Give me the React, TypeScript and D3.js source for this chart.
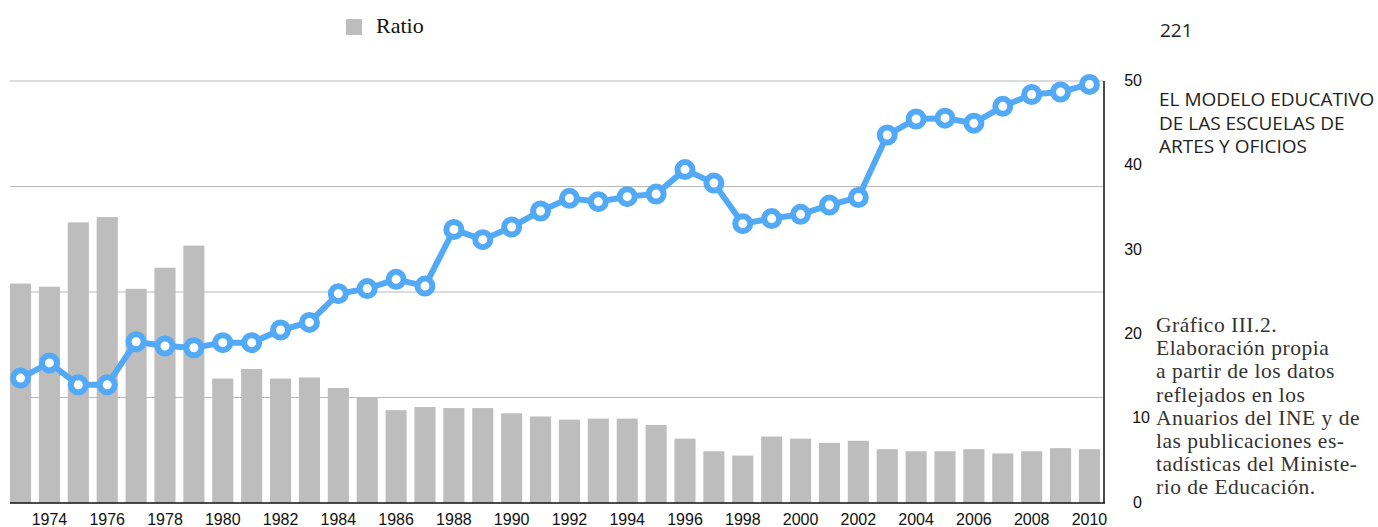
import React from 'react';
import * as d3 from 'd3';

// chart size (whole page)
const width = 1378;
const height = 527;
const plot = { left: 10, right: 1104, top: 81, bottom: 503 };

// data
const years = d3.range(1973, 2011);
const barValues = [
  20.8, 20.5, 26.6, 27.1, 20.3, 22.3, 24.4, 11.8, 12.7, 11.8,
  11.9, 10.9, 10.0, 8.8, 9.1, 9.0, 9.0, 8.5, 8.2, 7.9,
  8.0, 8.0, 7.4, 6.1, 4.9, 4.5, 6.3, 6.1, 5.7, 5.9,
  5.1, 4.9, 4.9, 5.1, 4.7, 4.9, 5.2, 5.1,
];
const ratioValues = [
  14.8, 16.6, 14.0, 14.0, 19.1, 18.6, 18.4, 19.0, 19.0, 20.5,
  21.4, 24.8, 25.4, 26.5, 25.7, 32.4, 31.2, 32.7, 34.6, 36.1,
  35.7, 36.3, 36.6, 39.5, 37.9, 33.1, 33.7, 34.2, 35.3, 36.2,
  43.6, 45.5, 45.6, 45.0, 47.0, 48.4, 48.7, 49.6,
];
const leftTicks = [10, 20, 30, 40];
const rightTicks = [0, 10, 20, 30, 40, 50];
const legendLabel = 'Ratio';
const pageNumber = '221';
const headerLines = ['EL MODELO EDUCATIVO', 'DE LAS ESCUELAS DE', 'ARTES Y OFICIOS'];
const captionLines = [
  'Gráfico III.2.',
  'Elaboración propia',
  'a partir de los datos',
  'reflejados en los',
  'Anuarios del INE y de',
  'las publicaciones es-',
  'tadísticas del Ministe-',
  'rio de Educación.',
];

const barColor = '#bdbdbd';
const lineColor = '#52a9f6';
const sans = 'Liberation Sans, Arial, sans-serif';
const serif = 'Liberation Serif, serif';

const App = () => {
  // scales
  const x = d3.scaleBand<number>()
    .domain(years)
    .range([plot.left, 1100])
    .paddingInner(0.27)
    .paddingOuter(0);
  const yBar = d3.scaleLinear().domain([0, 40]).range([plot.bottom, plot.top]);
  const yLine = d3.scaleLinear().domain([0, 50]).range([plot.bottom, plot.top]);
  const cx = (yr: number) => (x(yr) as number) + x.bandwidth() / 2;

  const line = d3.line<number>()
    .x((d, i) => cx(years[i]))
    .y(d => yLine(d));

  return (
    <svg width={width} height={height} style={{ position: 'absolute', left: 0, top: 0 }}>
      {/* legend */}
      <rect x={346} y={19} width={16} height={16} fill={barColor} />
      <text x={376} y={33} fontFamily={serif} fontSize={22} fill="#111">{legendLabel}</text>

      {/* gridlines */}
      {leftTicks.map(t => (
        <line key={t} x1={plot.left} x2={plot.right} y1={yBar(t)} y2={yBar(t)} stroke="#b8b8b8" strokeWidth={1} />
      ))}

      {/* bars */}
      {barValues.map((v, i) => (
        <rect key={years[i]} x={x(years[i])} width={x.bandwidth()} y={yBar(v)} height={plot.bottom - yBar(v)} fill={barColor} />
      ))}

      {/* axes */}
      <line x1={plot.left} x2={plot.right + 1} y1={plot.bottom} y2={plot.bottom} stroke="#111" strokeWidth={1.5} />
      <line x1={plot.right} x2={plot.right} y1={plot.top} y2={plot.bottom} stroke="#111" strokeWidth={1.5} />

      {years.filter(y => y % 2 === 0).map(y => (
        <text key={y} x={cx(y)} y={525} textAnchor="middle" fontFamily={sans} fontSize={16} fill="#111">{y}</text>
      ))}
      {rightTicks.map(t => (
        <text key={t} x={t === 10 ? 1150 : 1142} y={yLine(t)} dy="0.3em" textAnchor="end" fontFamily={sans} fontSize={16} fill="#111">{t}</text>
      ))}

      {/* ratio line */}
      <path d={line(ratioValues) || ''} fill="none" stroke={lineColor} strokeWidth={6} strokeLinejoin="round" />
      {ratioValues.map((v, i) => (
        <circle key={years[i]} cx={cx(years[i])} cy={yLine(v)} r={7.5} fill="#fff" stroke={lineColor} strokeWidth={6} />
      ))}

      {/* page text on the right */}
      <text x={1160} y={37} fontFamily="Open Sans, sans-serif" fontSize={19} fill="#222">{pageNumber}</text>
      {headerLines.map((l, i) => (
        <text key={l} x={1159} y={106 + i * 23.5} fontFamily="Open Sans, sans-serif" fontSize={19} fill="#222">{l}</text>
      ))}
      {captionLines.map((l, i) => (
        <text key={l} x={1156} y={332 + i * 23.2} fontFamily={serif} fontSize={21.5} letterSpacing={0.5} fill="#333">{l}</text>
      ))}
    </svg>
  );
};

export default App;
